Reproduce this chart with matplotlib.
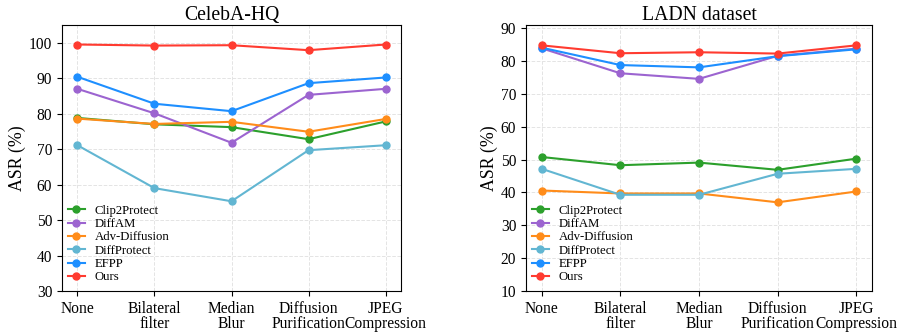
import matplotlib.pyplot as plt

plt.rcParams['font.family'] = ['Liberation Serif', 'DejaVu Serif']

categories = ["None", "Bilateral\nfilter", "Median\nBlur", "Diffusion\nPurification", "JPEG\nCompression"]
methods = ["Clip2Protect", "DiffAM", "Adv-Diffusion", "DiffProtect", "EFPP", "Ours"]
colors = ["#2ca02c", "#9c64d0", "#ff8c1a", "#62b6d2", "#1e8fff", "#ff3b30"]

celeba_clip2protect = [78.8, 77.0, 76.2, 72.8, 77.8]
celeba_diffam = [87.0, 80.1, 71.8, 85.3, 87.0]
celeba_advdiffusion = [78.6, 77.1, 77.7, 74.9, 78.5]
celeba_diffprotect = [71.1, 59.0, 55.3, 69.7, 71.1]
celeba_efpp = [90.4, 82.8, 80.7, 88.6, 90.2]
celeba_ours = [99.5, 99.2, 99.3, 97.9, 99.5]

ladn_clip2protect = [50.8, 48.3, 49.1, 46.9, 50.3]
ladn_diffam = [83.9, 76.3, 74.6, 81.6, 83.8]
ladn_advdiffusion = [40.6, 39.7, 39.7, 37.0, 40.3]
ladn_diffprotect = [47.2, 39.3, 39.3, 45.7, 47.2]
ladn_efpp = [84.1, 78.8, 78.1, 81.5, 83.6]
ladn_ours = [84.8, 82.4, 82.7, 82.3, 84.8]

celeba = [celeba_clip2protect, celeba_diffam, celeba_advdiffusion,
          celeba_diffprotect, celeba_efpp, celeba_ours]
ladn = [ladn_clip2protect, ladn_diffam, ladn_advdiffusion,
        ladn_diffprotect, ladn_efpp, ladn_ours]

fig = plt.figure(figsize=(8.99, 3.33), dpi=100)
ax1 = fig.add_axes([62 / 899, 1 - 291 / 333, 339 / 899, 266 / 333])
ax2 = fig.add_axes([526 / 899, 1 - 291 / 333, 346 / 899, 266 / 333])

x = range(len(categories))
for ax, data, title, ylim, yt in [(ax1, celeba, "CelebA-HQ", (30, 105), range(30, 101, 10)),
                                  (ax2, ladn, "LADN dataset", (10, 91), range(10, 91, 10))]:
    for name, vals, c in zip(methods, data, colors):
        ax.plot(x, vals, '-o', color=c, label=name, linewidth=1.5, markersize=5)
    ax.set_title(title, fontsize=14.2, pad=3)
    ax.set_ylabel("ASR (%)", fontsize=12.8, labelpad=2)
    ax.set_xticks(list(x))
    ax.set_xticklabels(categories, fontsize=11.2, linespacing=0.95)
    ax.set_yticks(list(yt))
    ax.tick_params(axis='y', labelsize=11.2)
    ax.set_xlim(-0.2, 4.2)
    ax.set_ylim(*ylim)
    ax.grid(True, linestyle='--', color='#e4e4e4', linewidth=0.7)
    ax.set_axisbelow(True)
    ax.legend(loc='lower left', bbox_to_anchor=(-0.005, 0.0), frameon=False,
              fontsize=9.2, handlelength=1.3, labelspacing=0.1,
              borderaxespad=0.2, handletextpad=0.8)

plt.savefig("out.png", dpi=100)
